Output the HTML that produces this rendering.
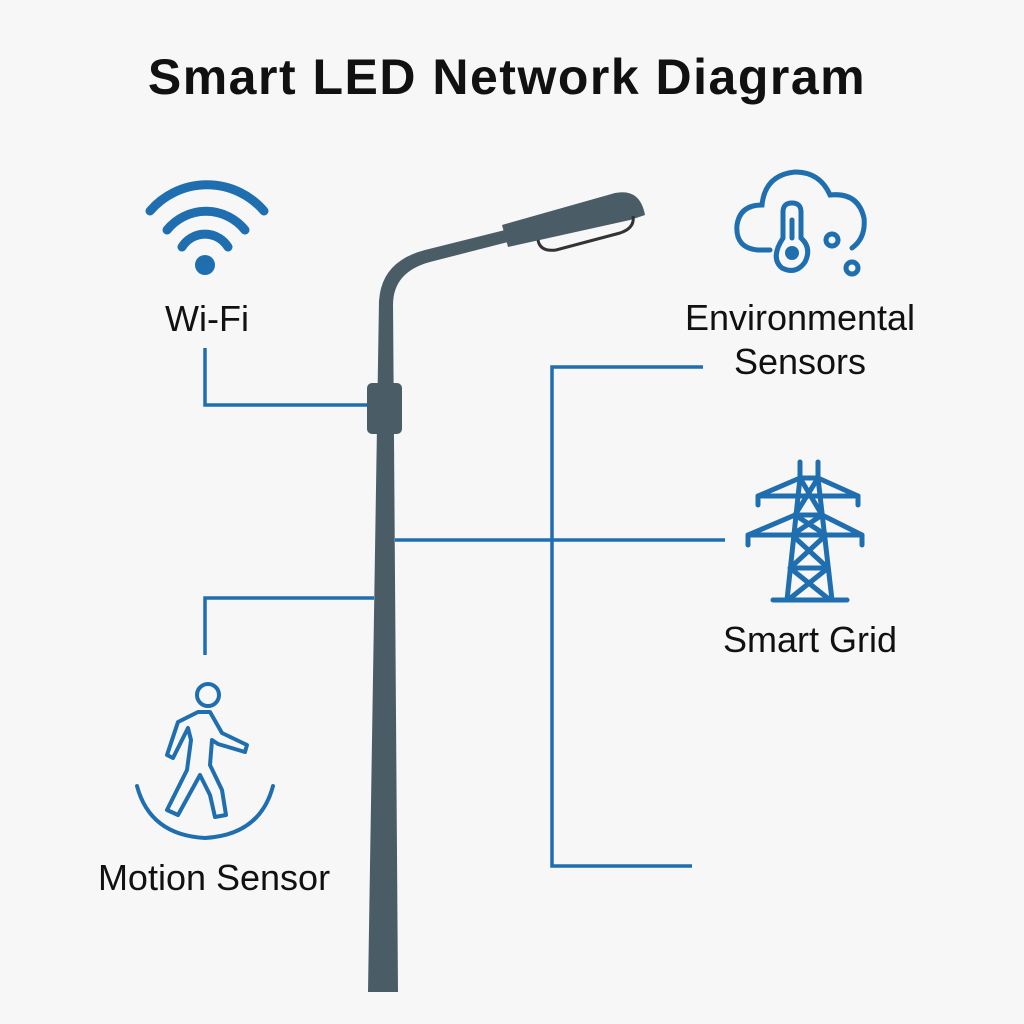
<!DOCTYPE html>
<html><head><meta charset="utf-8"><style>
body{margin:0;background:#f7f7f7;}
svg{display:block}
text{font-family:"Liberation Sans",sans-serif;fill:#111;}
</style></head><body>
<svg width="1024" height="1024" viewBox="0 0 1024 1024" xmlns="http://www.w3.org/2000/svg">
<rect width="1024" height="1024" fill="#f7f7f7"/>
<text x="507" y="94" font-size="50" font-weight="bold" text-anchor="middle" letter-spacing="1.5">Smart LED Network Diagram</text>

<!-- connectors -->
<g stroke="#1f6fb0" stroke-width="3.5" fill="none">
<polyline points="205,348 205,405 368,405"/>
<polyline points="205,655 205,598 374,598"/>
<line x1="395" y1="540" x2="725" y2="540"/>
<polyline points="703,367 552,367 552,866 692,866"/>
</g>

<!-- pole -->
<g fill="#4a5d67">
<polygon points="379,300 393,300 398,992 368,992"/>
<path d="M379,305 Q379,262 425,250 L505,230 L508,242 L430,262 Q393,272 393,305 Z"/>
<path d="M502,225 L615,193 Q640,188 645,215 L630,220 L508,247 Z"/>
<rect x="367" y="383" width="35" height="51" rx="5"/>
</g>
<path d="M538,240 Q540,252 556,250 L620,233 Q635,228 633,216" fill="none" stroke="#333" stroke-width="3"/>

<!-- wifi -->
<g stroke="#1f6fb0" stroke-width="9" fill="none" stroke-linecap="round">
<path d="M150,211 A75,75 0 0 1 264,211"/>
<path d="M167,230 A50,50 0 0 1 245,230"/>
<path d="M182,247 A27,27 0 0 1 228,247"/>
</g>
<circle cx="205" cy="265" r="10" fill="#1f6fb0"/>
<text x="207" y="331" font-size="36" text-anchor="middle">Wi-Fi</text>

<!-- cloud sensor -->
<g stroke="#1f6fb0" stroke-width="5" fill="none" stroke-linecap="round">
<path d="M770,250 L758,250 Q735,248 737,225 Q740,205 762,205 Q765,175 795,172 Q820,172 830,195 Q858,192 864,218 Q866,238 852,248"/>
<path d="M783,238 L783,212 Q783,203 792,203 Q801,203 801,212 L801,238 Q812,248 805,262 Q796,275 782,268 Q770,258 783,238 Z" fill="#f7f7f7"/>
<line x1="792" y1="238" x2="792" y2="220"/>
<circle cx="832" cy="240" r="6"/>
<circle cx="852" cy="268" r="6"/>
</g>
<circle cx="792" cy="253" r="7" fill="#1f6fb0"/>
<text x="800" y="330" font-size="36" text-anchor="middle">Environmental</text>
<text x="800" y="374" font-size="36" text-anchor="middle">Sensors</text>

<!-- pylon -->
<g stroke="#1f6fb0" stroke-width="5" fill="none" stroke-linecap="round" stroke-linejoin="round">
<line x1="800" y1="462" x2="800" y2="478"/>
<line x1="818" y1="462" x2="818" y2="478"/>
<polyline points="758,505 758,496 800,478 818,478 858,496 858,505"/>
<polyline points="748,545 748,535 795,515 822,515 862,535 862,545"/>
<line x1="758" y1="496" x2="858" y2="496"/>
<line x1="748" y1="535" x2="862" y2="535"/>
<polyline points="800,478 787,600"/>
<polyline points="818,478 832,600"/>
<line x1="773" y1="600" x2="847" y2="600"/>
<path d="M800,478 L822,515 L792,535 L828,568 L788,600 M818,478 L795,515 L826,535 L790,568 L830,600"/>
<line x1="795" y1="568" x2="826" y2="568"/>
</g>
<text x="810" y="652" font-size="36" text-anchor="middle">Smart Grid</text>

<!-- motion sensor -->
<g stroke="#1f6fb0" stroke-width="4" fill="none" stroke-linecap="round" stroke-linejoin="round">
<circle cx="208" cy="695" r="11"/>
<path d="M137,786 Q150,835 205,838 Q260,835 273,786"/>
<path d="M198,712 L178,722 L167,755 L173,758 L188,728 L191,740 L187,770 L167,810 L178,815 L200,775 L210,795 L215,817 L226,815 L222,790 L210,765 L212,740 L218,744 L245,752 L247,745 L222,733 L210,712 Z"/>
</g>
<text x="214" y="890" font-size="36" text-anchor="middle">Motion Sensor</text>
</svg>
</body></html>
